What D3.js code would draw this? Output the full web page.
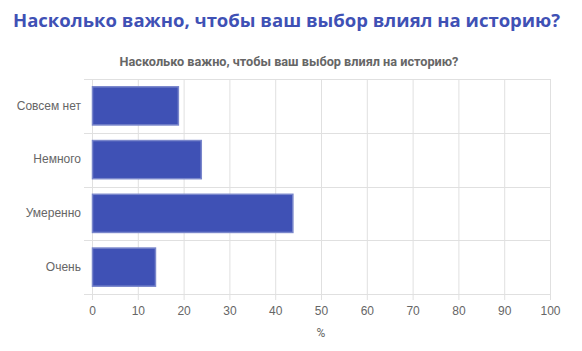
<!DOCTYPE html>
<html>
<head>
<meta charset="utf-8">
<script src="https://cdn.jsdelivr.net/npm/d3@7"></script>
<style>
  body { margin: 0; background: #fff; }
  svg { display: block; }
</style>
</head>
<body>
<div class="container"></div>
<script>
// 数据
const categories = ["Совсем нет", "Немного", "Умеренно", "Очень"];
const values = [18.75, 23.75, 43.75, 13.75];
const xTicks = [0, 10, 20, 30, 40, 50, 60, 70, 80, 90, 100];
const titleText = "Насколько важно, чтобы ваш выбор влиял на историю?";
const axisTitle = "%";

const W = 582, H = 351;
const margin = { top: 79, right: 32, bottom: 57, left: 92 };
const width = W - margin.left - margin.right;
const height = H - margin.top - margin.bottom;

const svg = d3.select(".container")
  .append("svg")
  .attr("width", W)
  .attr("height", H)
  .style("font-family", "Roboto, Arial, sans-serif");

// 大标题
svg.append("text")
  .attr("x", 13)
  .attr("y", 27)
  .attr("fill", "#3f51b5")
  .style("font-family", "'Open Sans', sans-serif")
  .style("font-size", "18.5px")
  .style("font-weight", "bold")
  .text(titleText);

// 图表标题
svg.append("text")
  .attr("x", 289)
  .attr("y", 66)
  .attr("text-anchor", "middle")
  .attr("fill", "#666")
  .style("font-size", "12.7px")
  .style("font-weight", "bold")
  .text(titleText);

const g = svg.append("g").attr("transform", `translate(${margin.left},${margin.top})`);

const x = d3.scaleLinear().domain([0, 100]).range([0, width]);
const y = d3.scaleBand().domain(categories).range([0, height]).paddingInner(0.29).paddingOuter(0.145);

// 竖向网格 + X 轴
g.append("g")
  .attr("transform", `translate(0,${height})`)
  .call(d3.axisBottom(x).tickValues(xTicks).tickSize(6).tickPadding(6))
  .call(g => g.select(".domain").remove())
  .call(g => g.selectAll(".tick line")
    .attr("stroke", "#e0e0e0")
    .attr("y1", -height))
  .call(g => g.selectAll(".tick text")
    .attr("fill", "#666")
    .style("font-size", "12px"));

// 横向网格（类别边界）
const bounds = categories.map((c, i) => i * y.step()).concat([height]);
g.append("g")
  .selectAll("line")
  .data(bounds)
  .join("line")
  .attr("x1", -8)
  .attr("x2", width)
  .attr("y1", d => Math.round(d) + 0.5)
  .attr("y2", d => Math.round(d) + 0.5)
  .attr("stroke", "#e0e0e0");

// Y 轴标签
g.append("g")
  .call(d3.axisLeft(y).tickSize(0).tickPadding(11))
  .call(g => g.select(".domain").remove())
  .call(g => g.selectAll(".tick text")
    .attr("fill", "#666")
    .style("font-size", "12px"));

// 柱子
g.selectAll(".bar")
  .data(values)
  .join("rect")
  .attr("class", "bar")
  .attr("x", 0.5)
  .attr("y", (d, i) => y(categories[i]))
  .attr("width", d => x(d))
  .attr("height", y.bandwidth())
  .attr("fill", "#3f51b5")
  .attr("stroke", "#7986cb")
  .attr("stroke-width", 1.5);

// X 轴标题
svg.append("text")
  .attr("x", margin.left + width / 2)
  .attr("y", 337)
  .attr("text-anchor", "middle")
  .attr("fill", "#666")
  .style("font-size", "12px")
  .text(axisTitle);
</script>
</body>
</html>
